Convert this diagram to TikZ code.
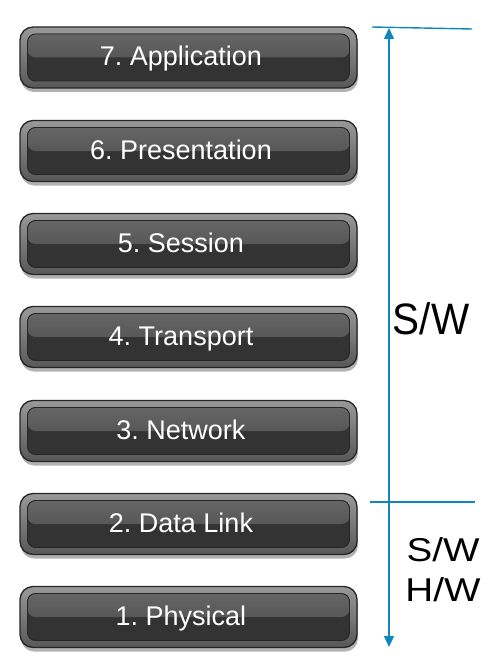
\documentclass[tikz,border=0pt]{standalone}
\usepackage{fontspec}
\setmainfont{Liberation Sans}
\usetikzlibrary{arrows.meta,shadows,calc}
\definecolor{ablue}{RGB}{14,134,190}
\frenchspacing
\begin{document}
\begin{tikzpicture}[x=1pt,y=-1pt,
  btnouter/.style={rectangle, rounded corners=13pt, minimum width=337pt, minimum height=61pt, inner sep=0pt,
    draw=black!85, line width=1.3pt, top color=black!40, bottom color=black!66,
    drop shadow={shadow xshift=1pt, shadow yshift=-4pt, opacity=0.3, fill=black}},
  btnpanel/.style={rectangle, rounded corners=8pt, minimum width=322pt, minimum height=47pt, inner sep=0pt,
    draw=black!85, line width=0.9pt, fill=black!80,
    path picture={\fill[top color=black!60, bottom color=black!72]
      (path picture bounding box.north west) rectangle ($(path picture bounding box.west)!0.5!(path picture bounding box.east)+(161pt,0)$);}},
  btntext/.style={font=\fontsize{27}{30}\selectfont, text=white, inner sep=0pt, anchor=base},
  bigtext/.style={inner sep=0pt, text=black},
  conn/.style={draw=ablue, line width=1.4pt}
]
\fill[white] (0,0) rectangle (489,666);
\useasboundingbox (0,0) rectangle (489,666);

\foreach \i/\y/\t in {7/57.5/{7. Application}, 6/151/{6. Presentation}, 5/244/{5. Session},
    4/337/{4. Transport}, 3/431/{3. Network}, 2/524/{2. Data Link}, 1/617/{1. Physical}} {
  \node[btnouter] (B\i) at (188.5,\y) {};
  \node[btnpanel] (P\i) at (B\i.center) {};
  \node[btntext] (T\i) at ($(181,\y)+(0,8)$) {\t};
}

\coordinate (topL) at (372,27);
\coordinate (topR) at (472,29);
\coordinate (midL) at (370,502);
\coordinate (midR) at (475,502);
\coordinate (atop) at (389,28);
\coordinate (abot) at (389,647);

\draw[conn] (topL) -- (topR);
\draw[conn] (midL) -- (midR);
\draw[conn, {Triangle[width=10pt,length=11pt]}-{Triangle[width=10pt,length=11pt]}] (atop) -- (abot);

\node[bigtext, font=\fontsize{44}{44}\selectfont, xscale=0.92] (sw1) at (431,319) {S/W};
\node[bigtext, font=\fontsize{33}{33}\selectfont, xscale=1.17] (sw2) at (443,550) {S/W};
\node[bigtext, font=\fontsize{33}{33}\selectfont, xscale=1.17] (hw) at (443,590) {H/W};
\end{tikzpicture}
\end{document}
